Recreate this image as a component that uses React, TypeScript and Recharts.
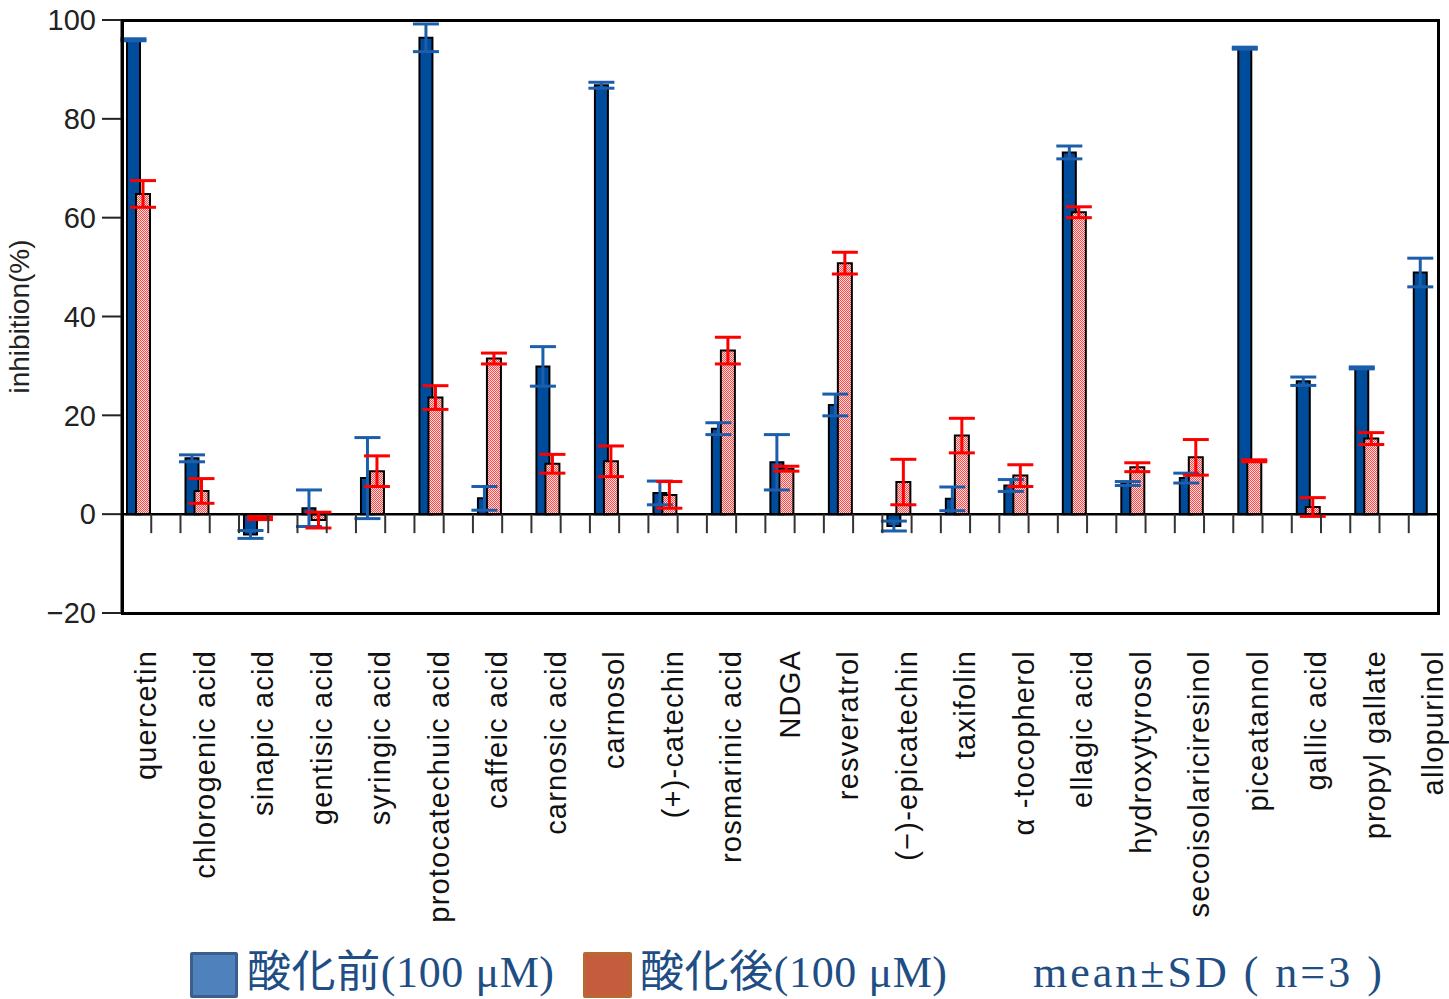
import { BarChart, Bar, XAxis, YAxis, ErrorBar, ReferenceLine } from "recharts";

const categories = [
  "quercetin",
  "chlorogenic acid",
  "sinapic acid",
  "gentisic acid",
  "syringic acid",
  "protocatechuic acid",
  "caffeic acid",
  "carnosic acid",
  "carnosol",
  "(+)-catechin",
  "rosmarinic acid",
  "NDGA",
  "resveratrol",
  "(−)-epicatechin",
  "taxifolin",
  "α -tocopherol",
  "ellagic acid",
  "hydroxytyrosol",
  "secoisolariciresinol",
  "piceatannol",
  "gallic acid",
  "propyl gallate",
  "allopurinol",
];

// 酸化前 (before oxidation)
const beforeMean = [96.0, 11.3, -4.1, 1.2, 7.3, 96.4, 3.2, 29.9, 86.8, 4.3, 17.3, 10.5, 22.1, -2.4, 3.1, 5.8, 73.2, 6.2, 7.3, 94.3, 26.9, 29.6, 48.9];
const beforeSd = [0.2, 0.7, 0.8, 3.7, 8.2, 2.8, 2.4, 4.0, 0.6, 2.4, 1.2, 5.6, 2.2, 1.0, 2.4, 1.2, 1.3, 0.4, 1.0, 0.2, 0.85, 0.2, 2.9];

// 酸化後 (after oxidation)
const afterMean = [64.8, 4.7, -0.8, -1.2, 8.7, 23.6, 31.5, 10.2, 10.7, 3.9, 33.1, 9.2, 50.8, 6.5, 15.9, 7.8, 61.1, 9.5, 11.5, 10.8, 1.45, 15.3, null];
const afterSd = [2.7, 2.5, 0.3, 1.6, 3.1, 2.4, 1.1, 1.9, 3.1, 2.7, 2.7, 0.5, 2.2, 4.6, 3.5, 2.2, 1.1, 0.9, 3.6, 0.2, 1.9, 1.2, null];

const yTicks = [-20, 0, 20, 40, 60, 80, 100];

const data = categories.map((name, i) => ({
  name,
  before: beforeMean[i],
  beforeErr: beforeSd[i],
  after: afterMean[i],
  afterErr: afterSd[i],
  spacer: null,
}));

const W = 1449;
const H = 999;
const PLOT_LEFT = 122;
const PLOT_TOP = 20;
const PLOT_RIGHT_MARGIN = 11;
const XAXIS_H = 300;
const BOTTOM_MARGIN = 86;
const PLOT_W = W - PLOT_LEFT - PLOT_RIGHT_MARGIN;
const PLOT_H = H - PLOT_TOP - BOTTOM_MARGIN - XAXIS_H;
// last category is cut in half by the frame
const BAND = PLOT_W / (categories.length - 0.5);
const ZERO_Y = PLOT_TOP + (PLOT_H * 100) / 120;

const labelFont = "'Liberation Sans', Arial, sans-serif";
const legendFont = "'Liberation Serif', 'DejaVu Serif', 'Noto Sans CJK JP', serif";

const CategoryTick = (props: any) => {
  const { x, payload } = props;
  const lx = x - 5;
  const ly = 650;
  return (
    <g>
      <line x1={x} x2={x} y1={ZERO_Y} y2={ZERO_Y + 19} stroke="#333" strokeWidth={2} />
      <line x1={x + BAND / 2} x2={x + BAND / 2} y1={ZERO_Y} y2={ZERO_Y + 19} stroke="#333" strokeWidth={2} />
      <text
        x={lx}
        y={ly}
        transform={`rotate(-90, ${lx}, ${ly})`}
        textAnchor="end"
        dominantBaseline="central"
        fontSize={29}
        letterSpacing={1.2}
        fontFamily={labelFont}
        fill="#111"
      >
        {payload.value}
      </text>
    </g>
  );
};

const legendText = {
  position: "absolute" as const,
  top: 946,
  fontSize: 44,
  letterSpacing: 0.6,
  lineHeight: "54px",
  color: "#1f4e84",
  fontFamily: legendFont,
  whiteSpace: "nowrap" as const,
};

export default function App() {
  return (
    <div style={{ position: "absolute", left: 0, top: 0, width: W, height: H, background: "#fff" }}>
      <svg width={0} height={0} style={{ position: "absolute" }}>
        <defs>
          <pattern id="pinkDots" width={2} height={2} patternUnits="userSpaceOnUse">
            <rect width={2} height={2} fill="#ffdede" />
            <rect x={0} y={0} width={1} height={1} fill="#ff4848" />
            <rect x={1} y={1} width={1} height={1} fill="#ff4848" />
          </pattern>
        </defs>
      </svg>
      <BarChart
        width={W}
        height={H}
        data={data}
        margin={{ top: PLOT_TOP, right: PLOT_RIGHT_MARGIN, bottom: BOTTOM_MARGIN, left: 0 }}
        barCategoryGap={0}
        barGap={-4}
      >
        <XAxis
          dataKey="name"
          interval={0}
          height={XAXIS_H}
          axisLine={false}
          tickLine={false}
          tick={<CategoryTick />}
          padding={{ left: 0, right: -BAND / 2 }}
        />
        <YAxis
          width={PLOT_LEFT}
          domain={[-20, 100]}
          ticks={yTicks}
          interval={0}
          tickSize={20}
          tickMargin={6}
          axisLine={{ stroke: "#000", strokeWidth: 3 }}
          tickLine={{ stroke: "#222", strokeWidth: 2 }}
          tick={{ fontSize: 29, fill: "#222", fontFamily: labelFont }}
          tickFormatter={(v: number) => String(v).replace("-", "−")}
          label={{
            value: "inhibition(%)",
            angle: -90,
            position: "insideLeft",
            dx: 14,
            style: { fontSize: 28, fill: "#222", fontFamily: labelFont, textAnchor: "middle" },
          }}
        />
        <ReferenceLine y={0} stroke="#000" strokeWidth={2.5} ifOverflow="hidden" />
        <Bar dataKey="before" barSize={13} fill="#004c9c" stroke="#000" strokeWidth={2} isAnimationActive={false}>
          <ErrorBar dataKey="beforeErr" width={13} stroke="#1b5eab" strokeWidth={3} />
        </Bar>
        <Bar dataKey="after" barSize={14} fill="url(#pinkDots)" stroke="#000" strokeWidth={2} isAnimationActive={false}>
          <ErrorBar dataKey="afterErr" width={13} stroke="#ff0000" strokeWidth={3} />
        </Bar>
        <Bar dataKey="spacer" barSize={28.5} fill="none" isAnimationActive={false} />
      </BarChart>
      <div
        style={{
          position: "absolute",
          left: PLOT_LEFT - 1.5,
          top: PLOT_TOP - 1.5,
          width: PLOT_W + 3,
          height: PLOT_H + 3,
          border: "3px solid #000",
          boxSizing: "border-box",
          pointerEvents: "none",
        }}
      />
      <div style={{ position: "absolute", left: 190, top: 952, width: 48, height: 46, background: "#4f81bd", border: "3px solid #3a5f8c", boxSizing: "border-box", borderRadius: 2 }} />
      <div style={{ ...legendText, left: 247 }}>酸化前(100 μM)</div>
      <div style={{ position: "absolute", left: 583, top: 952, width: 49, height: 46, background: "#c45c3d", border: "3px solid #b7692f", boxSizing: "border-box", borderRadius: 2 }} />
      <div style={{ ...legendText, left: 640 }}>酸化後(100 μM)</div>
      <div style={{ ...legendText, left: 1033, letterSpacing: 3 }}>mean±SD ( n=3 )</div>
    </div>
  );
}
